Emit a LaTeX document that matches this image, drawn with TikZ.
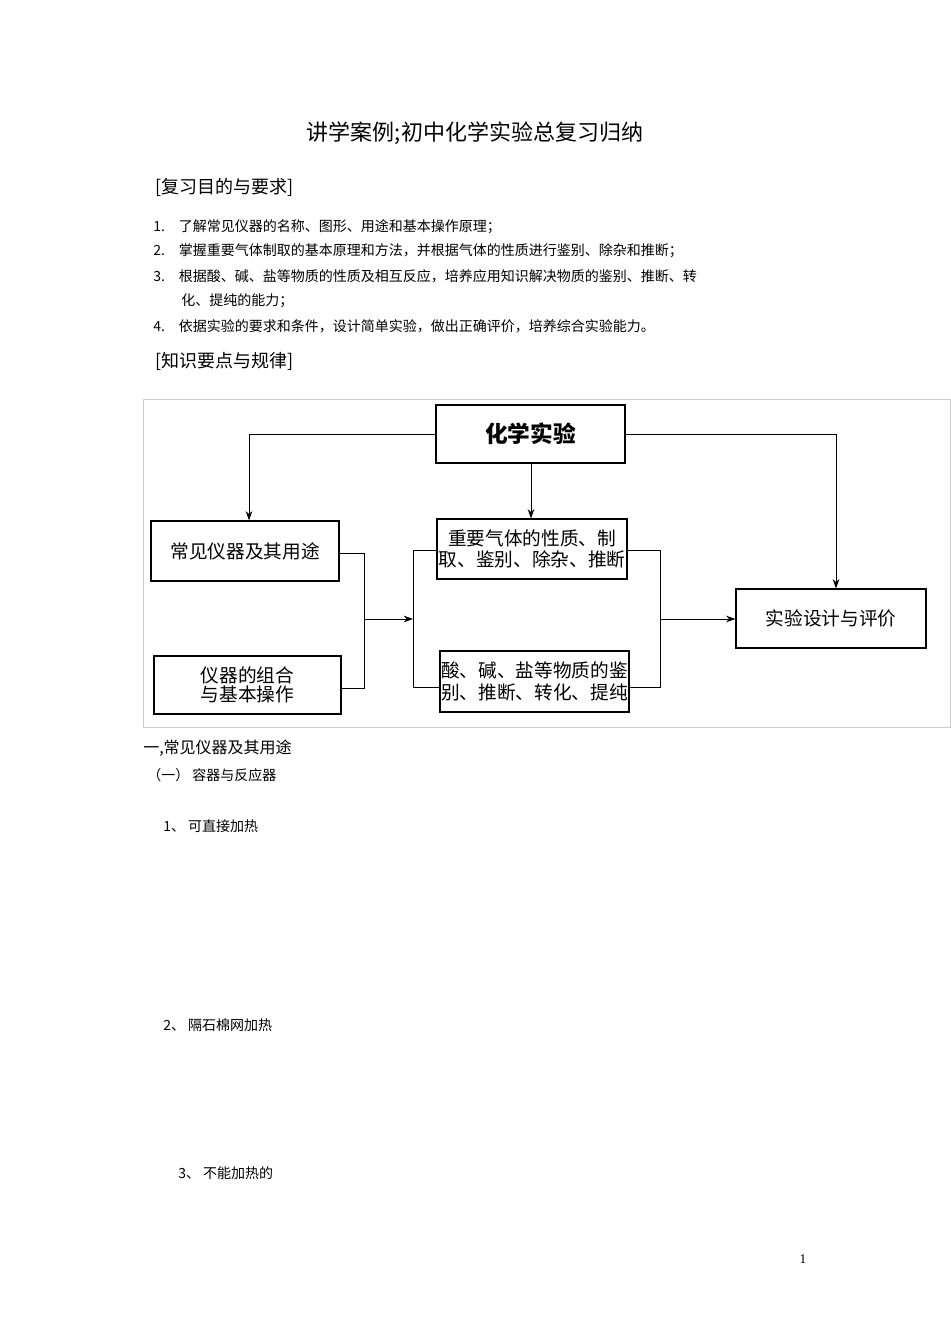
\documentclass[tikz,border=0pt]{standalone}
\usepackage{fontspec}
\newfontfamily\cjk{Noto Sans CJK SC}
\setmainfont{Liberation Serif}
\usetikzlibrary{arrows.meta}
\begin{document}
\begin{tikzpicture}[x=0.75pt,y=-0.75pt,
  box/.style={draw,line width=0.9pt,inner sep=0pt,font=\cjk\fontsize{14}{16}\selectfont,align=center},
  con/.style={line width=0.7pt},
  arr/.style={con,-{Stealth[length=7pt,width=5pt]}},
  txt/.style={anchor=west,inner sep=0pt,font=\cjk\fontsize{10.5}{12}\selectfont}]
\useasboundingbox (0,0) rectangle (950,1344);
\node[font=\cjk\fontsize{16.5}{18}\selectfont] (title) at (475,133) {讲学案例;初中化学实验总复习归纳};
\node[txt,font=\cjk\fontsize{13.5}{15}\selectfont] (h1) at (155,187) {[复习目的与要求]};
\node[txt] (l1) at (153,227) {1.\quad 了解常见仪器的名称、图形、用途和基本操作原理；};
\node[txt] (l2) at (153,251) {2.\quad 掌握重要气体制取的基本原理和方法，并根据气体的性质进行鉴别、除杂和推断；};
\node[txt] (l3) at (153,276) {3.\quad 根据酸、碱、盐等物质的性质及相互反应，培养应用知识解决物质的鉴别、推断、转};
\node[txt] (l3b) at (181,301) {化、提纯的能力；};
\node[txt] (l4) at (153,326) {4.\quad 依据实验的要求和条件，设计简单实验，做出正确评价，培养综合实验能力。};
\node[txt,font=\cjk\fontsize{13.5}{15}\selectfont] (h2) at (155,361) {[知识要点与规律]};
\draw[gray!40,line width=0.6pt] (143,399) rectangle (950,727);
\node[box,minimum width=189*0.75pt,minimum height=58*0.75pt,font=\cjk\bfseries\fontsize{17}{19}\selectfont] (top) at (530.5,434) {化学实验};
\node[box,minimum width=188*0.75pt,minimum height=60*0.75pt] (a) at (245,551) {常见仪器及其用途};
\node[box,minimum width=187*0.75pt,minimum height=58*0.75pt] (b) at (247.5,685) {仪器的组合\\[-2pt]与基本操作};
\node[box,minimum width=190*0.75pt,minimum height=60*0.75pt] (c) at (532,549) {重要气体的性质、制\\取、鉴别、除杂、推断};
\node[box,minimum width=189*0.75pt,minimum height=61*0.75pt] (d) at (534.5,681.5) {酸、碱、盐等物质的鉴\\别、推断、转化、提纯};
\node[box,minimum width=190*0.75pt,minimum height=59*0.75pt] (e) at (831,618.5) {实验设计与评价};
\draw[arr] (top.west) -| (a.north -| 249,0);
\draw[arr] (top.south -| 531,0) -- (c.north -| 531,0);
\draw[arr] (top.east) -| (e.north -| 836,0);
\coordinate (lj) at (364,619);
\coordinate (cj) at (413,619);
\coordinate (rj) at (660,619);
\draw[con] (a.east |- 0,553) -| (364,688) -- (b.east |- 0,688);
\draw[arr] (lj) -- (cj);
\draw[con] (c.west |- 0,550) -| (413,687) -- (d.west |- 0,687);
\draw[con] (c.east |- 0,550) -| (660,687) -- (d.east |- 0,687);
\draw[arr] (rj) -- (e.west |- rj);
\node[txt,font=\cjk\fontsize{12}{14}\selectfont] (s1) at (143,748) {一,常见仪器及其用途};
\node[txt] (s2) at (147,775) {（一）\ 容器与反应器};
\node[txt] (s3) at (163,826) {1、\ 可直接加热};
\node[txt] (s4) at (163,1025) {2、\ 隔石棉网加热};
\node[txt] (s5) at (178,1173) {3、\ 不能加热的};
\node[font=\fontsize{10}{12}\selectfont] (pg) at (803,1259) {1};
\end{tikzpicture}
\end{document}
